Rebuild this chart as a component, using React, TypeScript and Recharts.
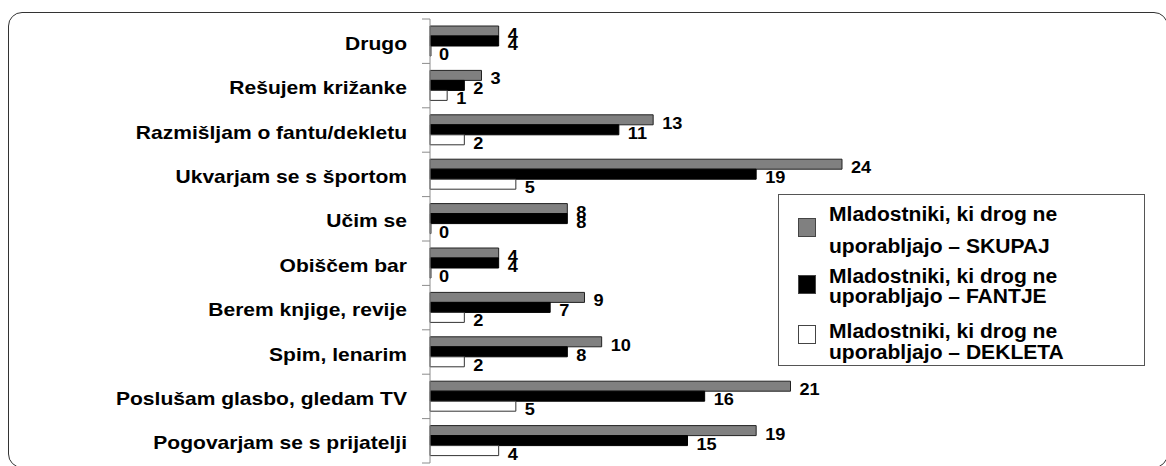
import React from 'react'
import { BarChart, Bar, XAxis, YAxis, LabelList } from 'recharts'

const categories = [
  'Drugo',
  'Rešujem križanke',
  'Razmišljam o fantu/dekletu',
  'Ukvarjam se s športom',
  'Učim se',
  'Obiščem bar',
  'Berem knjige, revije',
  'Spim, lenarim',
  'Poslušam glasbo, gledam TV',
  'Pogovarjam se s prijatelji',
]

const skupaj = [4, 3, 13, 24, 8, 4, 9, 10, 21, 19]
const fantje = [4, 2, 11, 19, 8, 4, 7, 8, 16, 15]
const dekleta = [0, 1, 2, 5, 0, 0, 2, 2, 5, 4]

const seriesNames = [
  'Mladostniki, ki drog ne uporabljajo – SKUPAJ',
  'Mladostniki, ki drog ne uporabljajo – FANTJE',
  'Mladostniki, ki drog ne uporabljajo – DEKLETA',
]

const data = categories.map((name, i) => ({
  name,
  skupaj: skupaj[i],
  fantje: fantje[i],
  dekleta: dekleta[i],
}))

const FONT = '"Liberation Sans", Arial, Helvetica, sans-serif'
const W = 1166
const H = 466
const TOP = 19
const BOTTOM = 3
const AXIS_X = 430
const band = (H - TOP - BOTTOM) / categories.length

const CategoryTick = (props: any) => {
  const { x, y, payload, index } = props
  const top = y - band / 2
  return (
    <g>
      <line x1={AXIS_X - 8} x2={AXIS_X} y1={top} y2={top} stroke="#8c8c8c" />
      {index === categories.length - 1 && (
        <line x1={AXIS_X - 8} x2={AXIS_X} y1={top + band} y2={top + band} stroke="#8c8c8c" />
      )}
      <text
        transform={`translate(${x},${y + 8.5}) scale(1.12,1)`}
        textAnchor="end"
        fontFamily={FONT}
        fontWeight="bold"
        fontSize={18.8}
        fill="#000"
      >
        {payload.value}
      </text>
    </g>
  )
}

const valueLabel = (props: any) => {
  const { x, y, width, height, value } = props
  // zero-value bars get a 1px min size, so drop it again for the label position
  const w = Number(value) === 0 ? 0 : Number(width)
  return (
    <text
      transform={`translate(${Number(x) + w + 9},${Number(y) + Number(height) / 2 + 9}) scale(1.07,1)`}
      fontFamily={FONT}
      fontWeight="bold"
      fontSize={17}
      fill="#000"
    >
      {String(value)}
    </text>
  )
}

const legendColors = ['#808080', '#000000', '#ffffff']
// line tops for each legend entry (the original has uneven spacing)
const legendRows = [
  { swatch: 218, lines: [204.6, 237.2] },
  { swatch: 275, lines: [267.2, 287.2] },
  { swatch: 325, lines: [322.2, 343.2] },
]

function Legendbox() {
  return (
    <>
      <div
        style={{
          position: 'absolute',
          left: 778,
          top: 194,
          width: 367,
          height: 172,
          border: '1px solid #555',
          boxSizing: 'border-box',
          background: '#fff',
        }}
      />
      {seriesNames.map((s, i) => {
        const parts = s.split(/(?<=ne) /)
        return (
          <React.Fragment key={s}>
            <div
              style={{
                position: 'absolute',
                left: 798,
                top: legendRows[i].swatch,
                width: 18,
                height: 19,
                background: legendColors[i],
                border: '1px solid #444',
                boxSizing: 'border-box',
              }}
            />
            {parts.map((p, j) => (
              <div
                key={j}
                style={{
                  position: 'absolute',
                  left: 829,
                  top: legendRows[i].lines[j],
                  fontFamily: FONT,
                  fontWeight: 'bold',
                  fontSize: 19.5,
                  lineHeight: '19px',
                  whiteSpace: 'nowrap',
                  color: '#000',
                  transform: 'scaleX(1.08)',
                  transformOrigin: 'left center',
                }}
              >
                {p}
              </div>
            ))}
          </React.Fragment>
        )
      })}
    </>
  )
}

export default function App() {
  return (
    <div
      style={{
        position: 'absolute',
        left: 0,
        top: 0,
        width: W,
        height: H,
        overflow: 'hidden',
        background: '#fff',
      }}
    >
      <div
        style={{
          position: 'absolute',
          left: 8,
          top: 12,
          width: 1160,
          height: 456,
          border: '1px solid #333',
          borderRadius: 14,
          boxSizing: 'border-box',
        }}
      />
      <div style={{ position: 'absolute', left: 0, top: 0 }}>
        <BarChart
          width={W}
          height={H}
          data={data}
          layout="vertical"
          margin={{ top: TOP, right: 221, bottom: BOTTOM, left: 0 }}
          barGap={0}
          barSize={10}
        >
          <XAxis type="number" domain={[0, 30]} hide />
          <YAxis
            type="category"
            dataKey="name"
            width={AXIS_X}
            axisLine={{ stroke: '#8c8c8c' }}
            tickLine={false}
            tickSize={0}
            tickMargin={23}
            interval={0}
            tick={<CategoryTick />}
          />
          <Bar dataKey="skupaj" name={seriesNames[0]} fill="#808080" stroke="#222" isAnimationActive={false}>
            <LabelList dataKey="skupaj" content={valueLabel} />
          </Bar>
          <Bar dataKey="fantje" name={seriesNames[1]} fill="#000" stroke="#000" isAnimationActive={false}>
            <LabelList dataKey="fantje" content={valueLabel} />
          </Bar>
          <Bar
            dataKey="dekleta"
            name={seriesNames[2]}
            fill="#fff"
            stroke="#333"
            minPointSize={1}
            isAnimationActive={false}
          >
            <LabelList dataKey="dekleta" content={valueLabel} />
          </Bar>
        </BarChart>
      </div>
      <Legendbox />
    </div>
  )
}
